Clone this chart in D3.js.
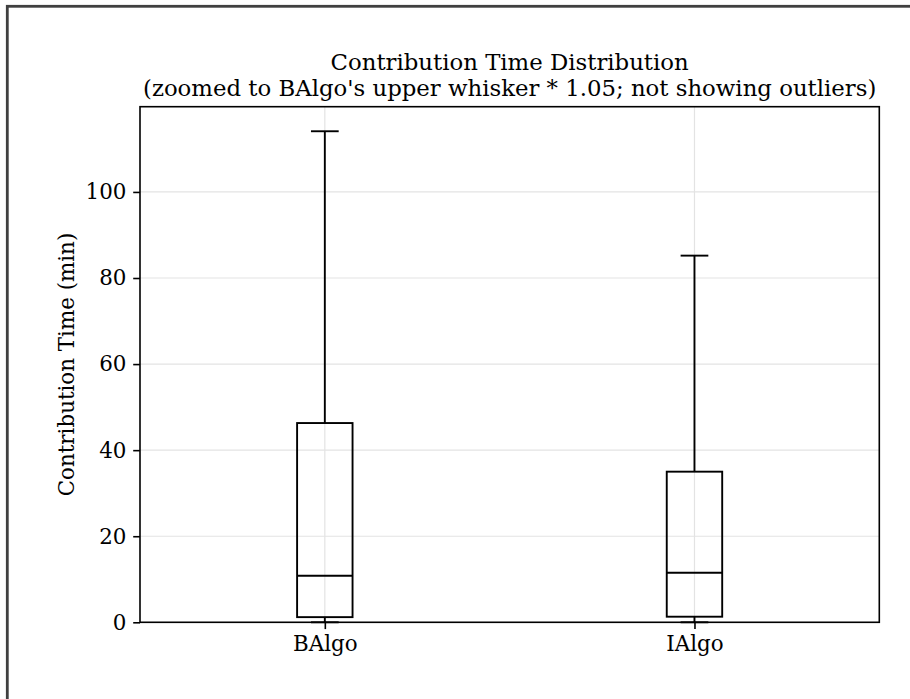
<!DOCTYPE html>
<html>
<head>
<meta charset="utf-8">
<script src="https://cdn.jsdelivr.net/npm/d3@7"></script>
<style>
  html, body { margin: 0; padding: 0; background: #fff; }
  svg { display: block; }
  text { font-family: "DejaVu Serif", serif; fill: #000; }
</style>
</head>
<body>
<script>
// ---- Data ----
const categories = ["BAlgo", "IAlgo"];
const whiskerLow = [0, 0];
const q1 = [1.2, 1.3];
const median = [10.8, 11.5];
const q3 = [46.3, 35.0];
const whiskerHigh = [114.1, 85.2];
const yTicks = [0, 20, 40, 60, 80, 100];
const titleLines = ["Contribution Time Distribution",
  "(zoomed to BAlgo's upper whisker * 1.05; not showing outliers)"];
const yLabel = "Contribution Time (min)";

// ---- Layout ----
const W = 910, H = 699;
const plot = { left: 140, top: 106.7, right: 879.3, bottom: 622.3 };
const tickFont = 21.4;
const titleFont = 22.8;
const boxWidth = 0.15;

const svg = d3.select("body").append("svg").attr("width", W).attr("height", H);

// outer frame (left & top edges visible)
svg.append("rect").attr("x", 7.3).attr("y", 6.3).attr("width", 1000).attr("height", 1000)
  .attr("fill", "none").attr("stroke", "#404040").attr("stroke-width", 2.8);

const yMax = whiskerHigh[0] * 1.05;
const x = d3.scaleLinear().domain([0.5, 2.5]).range([plot.left, plot.right]);
const y = d3.scaleLinear().domain([0, yMax]).range([plot.bottom, plot.top]);

const g = svg.append("g");

// grid
g.selectAll("line.hgrid").data(yTicks).join("line")
  .attr("x1", plot.left).attr("x2", plot.right)
  .attr("y1", d => y(d)).attr("y2", d => y(d))
  .attr("stroke", "#e3e3e3").attr("stroke-width", 1.2);
g.selectAll("line.vgrid").data(categories).join("line")
  .attr("x1", (d, i) => x(i + 1)).attr("x2", (d, i) => x(i + 1))
  .attr("y1", plot.top).attr("y2", plot.bottom)
  .attr("stroke", "#e3e3e3").attr("stroke-width", 1.2);

// boxes
const bx = g.selectAll("g.box").data(categories).join("g").attr("class", "box");
const lw = 1.9;
bx.append("line") // upper whisker
  .attr("x1", (d, i) => x(i + 1)).attr("x2", (d, i) => x(i + 1))
  .attr("y1", (d, i) => y(q3[i])).attr("y2", (d, i) => y(whiskerHigh[i]))
  .attr("stroke", "#000").attr("stroke-width", lw);
bx.append("line") // lower whisker
  .attr("x1", (d, i) => x(i + 1)).attr("x2", (d, i) => x(i + 1))
  .attr("y1", (d, i) => y(q1[i])).attr("y2", (d, i) => y(whiskerLow[i]))
  .attr("stroke", "#000").attr("stroke-width", lw);
bx.append("line") // upper cap
  .attr("x1", (d, i) => x(i + 1 - boxWidth / 4)).attr("x2", (d, i) => x(i + 1 + boxWidth / 4))
  .attr("y1", (d, i) => y(whiskerHigh[i])).attr("y2", (d, i) => y(whiskerHigh[i]))
  .attr("stroke", "#000").attr("stroke-width", lw);
bx.append("line") // lower cap
  .attr("x1", (d, i) => x(i + 1 - boxWidth / 4)).attr("x2", (d, i) => x(i + 1 + boxWidth / 4))
  .attr("y1", (d, i) => y(whiskerLow[i])).attr("y2", (d, i) => y(whiskerLow[i]))
  .attr("stroke", "#000").attr("stroke-width", lw);
bx.append("rect")
  .attr("x", (d, i) => x(i + 1 - boxWidth / 2))
  .attr("width", (d, i) => x(i + 1 + boxWidth / 2) - x(i + 1 - boxWidth / 2))
  .attr("y", (d, i) => y(q3[i]))
  .attr("height", (d, i) => y(q1[i]) - y(q3[i]))
  .attr("fill", "none").attr("stroke", "#000").attr("stroke-width", lw);
bx.append("line") // median
  .attr("x1", (d, i) => x(i + 1 - boxWidth / 2)).attr("x2", (d, i) => x(i + 1 + boxWidth / 2))
  .attr("y1", (d, i) => y(median[i])).attr("y2", (d, i) => y(median[i]))
  .attr("stroke", "#000").attr("stroke-width", lw);

// axes
const yAxis = d3.axisLeft(y).tickValues(yTicks).tickSize(6.8).tickPadding(6.8).tickFormat(d3.format("d"));
const xAxis = d3.axisBottom(x).tickValues(categories.map((d, i) => i + 1)).tickSize(6.8).tickPadding(6.8)
  .tickFormat((d) => categories[d - 1]);

const ya = svg.append("g").attr("transform", `translate(${plot.left},0)`).call(yAxis);
const xa = svg.append("g").attr("transform", `translate(0,${plot.bottom})`).call(xAxis);
[ya, xa].forEach(a => {
  a.select(".domain").remove();
  a.selectAll(".tick line").attr("stroke", "#000").attr("stroke-width", 1.6);
  a.selectAll(".tick text").attr("font-family", "DejaVu Serif").attr("font-size", tickFont).attr("fill", "#000");
});

// spines
svg.append("rect").attr("x", plot.left).attr("y", plot.top)
  .attr("width", plot.right - plot.left).attr("height", plot.bottom - plot.top)
  .attr("fill", "none").attr("stroke", "#000").attr("stroke-width", 1.6);

// title
const cx = (plot.left + plot.right) / 2;
svg.append("text").attr("x", cx).attr("y", 70).attr("text-anchor", "middle")
  .attr("font-size", titleFont).text(titleLines[0]);
svg.append("text").attr("x", cx).attr("y", 96).attr("text-anchor", "middle")
  .attr("font-size", titleFont).text(titleLines[1]);

// y label
svg.append("text")
  .attr("transform", `translate(74,${(plot.top + plot.bottom) / 2}) rotate(-90)`)
  .attr("text-anchor", "middle").attr("font-size", tickFont).text(yLabel);
</script>
</body>
</html>
